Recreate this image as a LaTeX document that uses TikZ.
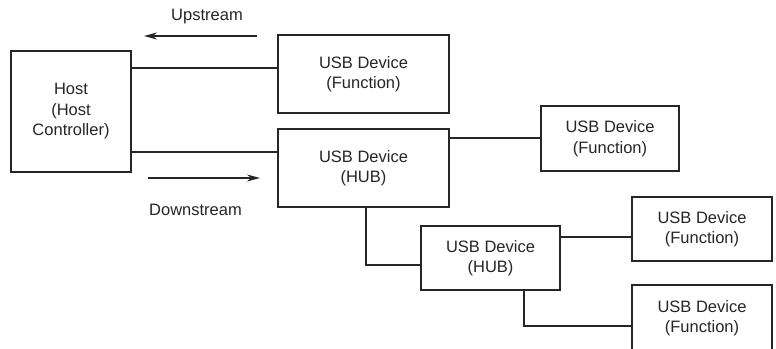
\documentclass[tikz,border=0pt]{standalone}
\usepackage{fontspec}
\setmainfont{Liberation Sans}
\usetikzlibrary{arrows.meta}
\definecolor{ink}{HTML}{262626}
\begin{document}
\begin{tikzpicture}[x=1pt,y=-1pt,
  box/.style={draw=ink,line width=1.3pt,rectangle,inner sep=0pt,align=center,
    font=\fontsize{16.5}{20.5}\selectfont,text=ink},
  wire/.style={draw=ink,line width=1.3pt},
  flow/.style={draw=ink,line width=1.3pt,-{Stealth[length=13pt,width=7pt]}},
  lbl/.style={font=\fontsize{16.5}{20.5}\selectfont,text=ink,anchor=base}]
\clip (0,0) rectangle (776,348);
\fill[white] (0,0) rectangle (776,348);
\node[box,minimum width=120pt,minimum height=121pt] (host) at (71,111.5) {Host\\(Host\\Controller)};
\node[box,minimum width=171pt,minimum height=78pt] (f1) at (363.5,74) {USB Device\\(Function)};
\node[box,minimum width=171pt,minimum height=78pt] (hub1) at (363.5,168) {USB Device\\(HUB)};
\node[box,minimum width=138pt,minimum height=65pt] (f2) at (610,138.5) {USB Device\\(Function)};
\node[box,minimum width=139pt,minimum height=64pt] (hub2) at (490.5,258) {USB Device\\(HUB)};
\node[box,minimum width=140pt,minimum height=64pt] (f3) at (702,229) {USB Device\\(Function)};
\node[box,minimum width=140pt,minimum height=66pt] (f4) at (702,318) {USB Device\\(Function)};
\coordinate (c1) at ([yshift=6pt]f1.west);
\coordinate (c2) at ([yshift=16pt]hub1.west);
\coordinate (c3) at ([yshift=-7pt]hub2.west);
\coordinate (c4) at ([yshift=-8pt]f3.west);
\coordinate (c5) at ([yshift=-8pt]f4.west);
\coordinate (c6) at ([yshift=0.5pt]f2.west);
\draw[wire] (host.east |- c1) -- (c1);
\draw[wire] (host.east |- c2) -- (c2);
\draw[wire] (hub1.east |- c6) -- (c6);
\draw[wire] ([xshift=2.5pt]hub1.south) |- (c3);
\draw[wire] (hub2.east |- c4) -- (c4);
\draw[wire] ([xshift=33.5pt]hub2.south) |- (c5);
\coordinate (ua1) at (257,36);
\coordinate (ua2) at (144,36);
\coordinate (da1) at (148,178);
\coordinate (da2) at (260,178);
\draw[flow] (ua1) -- (ua2);
\draw[flow] (da1) -- (da2);
\node[lbl] (up) at (207,20.5) {Upstream};
\node[lbl] (down) at (195.5,215) {Downstream};
\end{tikzpicture}
\end{document}
